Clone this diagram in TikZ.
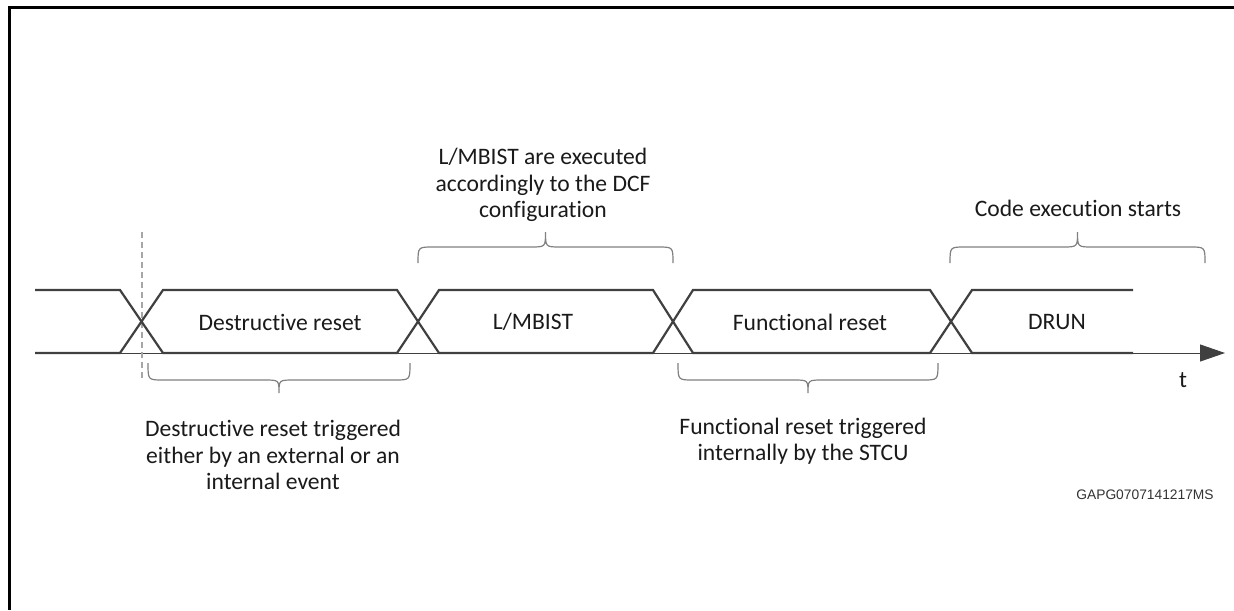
\documentclass[tikz,border=0pt]{standalone}
\usepackage{fontspec}
\setmainfont[Ligatures=NoCommon]{Carlito}
\newfontfamily\idfont{Liberation Sans}
\usetikzlibrary{arrows.meta}

\definecolor{sigline}{HTML}{404040}
\definecolor{braceline}{HTML}{808080}
\definecolor{markline}{HTML}{A6A6A6}
\definecolor{txt}{HTML}{1A1A1A}

\tikzset{
  signal/.style={draw=sigline, line width=1.1pt, line join=miter},
  timeaxis/.style={draw=sigline, line width=0.5pt, -{Triangle[length=12.5pt,width=8.5pt]}},
  bracket/.style={draw=braceline, line width=0.6pt},
  marker/.style={draw=markline, line width=0.7pt, dash pattern=on 3pt off 2pt},
  statelabel/.style={text=txt, font=\fontsize{11.8}{13}\selectfont},
  note/.style={text=txt, align=center, font=\fontsize{11.8}{13.2}\selectfont},
}

% curly brace: x left, x right, y of ends, y of flat part, y of tip
\newcommand{\timebrace}[5]{%
  \pgfmathsetmacro{\bmid}{(#1+#2)/2}
  \draw[bracket] (#1,#3) .. controls (#1,#4) .. (#1+15,#4)
    -- (\bmid-15,#4) .. controls (\bmid,#4) .. (\bmid,#5)
    .. controls (\bmid,#4) .. (\bmid+15,#4)
    -- (#2-15,#4) .. controls (#2,#4) .. (#2,#3);}

\begin{document}
\begin{tikzpicture}[x=0.5pt, y=-0.5pt]
  \useasboundingbox (0,0) rectangle (1234,610);

  % frame
  \draw[line width=1.5pt] (9.5,610) -- (9.5,7.5) -- (1234,7.5);

  % time axis and reset marker
  \draw[timeaxis] (35,353) -- (1225,353);
  \draw[marker] (142,232) -- (142,380);

  % the two signal edges
  \draw[signal] (35,290) -- (120,290) -- (163,353) -- (397,353) -- (439,290)
    -- (653,290) -- (693,353) -- (930,353) -- (972,290) -- (1133,290);
  \draw[signal] (35,353) -- (120,353) -- (163,290) -- (397,290) -- (439,353)
    -- (653,353) -- (693,290) -- (930,290) -- (972,353) -- (1133,353);

  % phase names
  \node[statelabel] (destr) at (280,322) {Destructive reset};
  \node[statelabel] (lbist) at (533,322) {L/MBIST};
  \node[statelabel] (func) at (810,322) {Functional reset};
  \node[statelabel] (drun) at (1057,322) {DRUN};
  \node[statelabel] (tlabel) at (1183,380) {t};

  % braces
  \timebrace{148}{410}{363}{380}{393}
  \timebrace{678}{938}{363}{380}{393}
  \timebrace{418}{673}{263}{247}{232}
  \timebrace{950}{1205}{263}{247}{232}

  % notes
  \node[note] (destrnote) at (273,455) {Destructive reset triggered\\either by an external or an\\internal event};
  \node[note] (funcnote) at (803,441) {Functional reset triggered\\internally by the STCU};
  \node[note] (lbistnote) at (543,185) {L/MBIST are executed\\accordingly to the DCF\\configuration};
  \node[note] (drunnote) at (1078,208) {Code execution starts};

  \node[text=black!80, font=\idfont\fontsize{6.9}{8}\selectfont] (figid) at (1145,495) {GAPG0707141217MS};
\end{tikzpicture}
\end{document}
